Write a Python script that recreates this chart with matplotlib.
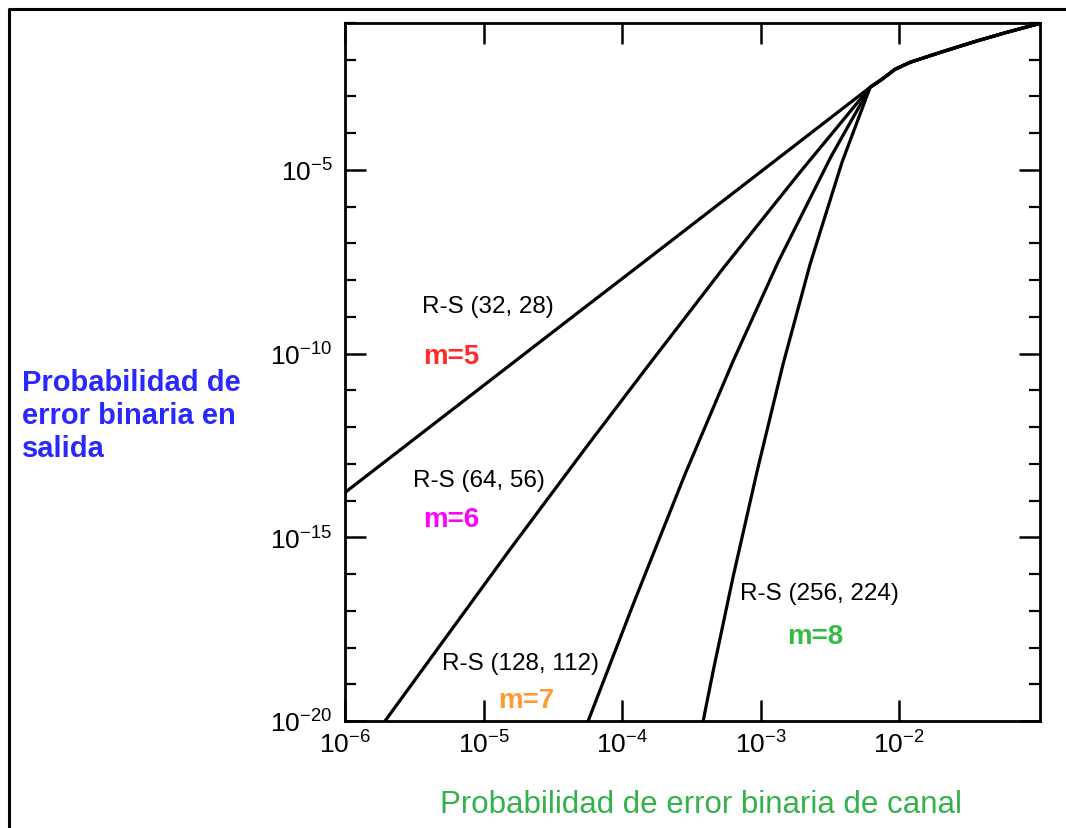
import matplotlib
matplotlib.use("Agg")
import matplotlib.pyplot as plt
from matplotlib.lines import Line2D
from matplotlib.ticker import FixedLocator, NullFormatter, FixedFormatter

plt.rcParams['font.family'] = ['Liberation Sans', 'DejaVu Sans']
plt.rcParams['mathtext.default'] = 'regular'

# ---- data (channel BER -> output BER) ----
rs32_p  = [1.0e-6, 4.98e-5, 1.42e-4, 6.18e-3]
rs32_pe = [1.66e-14, 1.45e-9, 3.02e-8, 1.78e-3]

rs64_p  = [1.945e-6, 1.552e-5, 5.58e-5, 1.542e-4, 5.36e-4, 1.928e-3, 6.18e-3]
rs64_pe = [1e-20, 4.68e-16, 3.02e-13, 4.68e-11, 2.09e-8, 8.71e-6, 1.78e-3]

rs128_p  = [5.69e-5, 1.242e-4, 2.85e-4, 6.32e-4, 1.337e-3, 3.23e-3, 6.18e-3]
rs128_pe = [1e-20, 2.04e-17, 5.25e-14, 6.17e-11, 3.09e-8, 2.34e-5, 1.78e-3]

rs256_p  = [3.85e-4, 4.54e-4, 6.32e-4, 9.44e-4, 1.452e-3, 2.275e-3, 3.87e-3, 6.18e-3]
rs256_pe = [1e-20, 2.24e-19, 8.13e-17, 6.31e-14, 5.13e-11, 2.69e-8, 1.62e-5, 1.78e-3]

# shared upper part where all curves merge
common_p  = [7.53e-3, 9.35e-3, 1.20e-2, 1.98e-2, 3.42e-2, 6.03e-2, 1.04e-1]
common_pe = [2.95e-3, 5.50e-3, 8.51e-3, 1.58e-2, 3.02e-2, 5.62e-2, 9.77e-2]

curve_names = ["R-S (32, 28)", "R-S (64, 56)", "R-S (128, 112)", "R-S (256, 224)"]
m_labels = ["m=5", "m=6", "m=7", "m=8"]

x_ticks = [1e-6, 1e-5, 1e-4, 1e-3, 1e-2]
x_ticklabels = ['$10^{-6}$', '$10^{-5}$', '$10^{-4}$', '$10^{-3}$', '$10^{-2}$']
y_ticks = [1e-20, 1e-15, 1e-10, 1e-5]
y_ticklabels = ['$10^{-20}$', '$10^{-15}$', '$10^{-10}$', '$10^{-5}$']
y_minor = [10.0 ** k for k in range(-20, 0)]

xlabel = "Probabilidad de error binaria de canal"
ylabel = "Probabilidad de\nerror binaria en\nsalida"

# ---- figure ----
W, H = 1066, 829
fig = plt.figure(figsize=(W / 100, H / 100), dpi=100)
fig.patch.set_facecolor('white')

L, R, T, B = 345, 1040, 24, 722
ax = fig.add_axes([L / W, 1 - B / H, (R - L) / W, (B - T) / H])
ax.set_xscale('log')
ax.set_yscale('log')
ax.set_xlim(1e-6, 1.04e-1)
ax.set_ylim(1e-20, 1.0e-1)

for px, pe in [(rs32_p, rs32_pe), (rs64_p, rs64_pe), (rs128_p, rs128_pe), (rs256_p, rs256_pe)]:
    ax.plot(px + common_p, pe + common_pe, color='black', lw=2.3, solid_joinstyle='round',
            solid_capstyle='round')

for s in ax.spines.values():
    s.set_linewidth(2.0)

ax.xaxis.set_major_locator(FixedLocator(x_ticks))
ax.xaxis.set_major_formatter(FixedFormatter(x_ticklabels))
ax.xaxis.set_minor_locator(FixedLocator([]))
ax.yaxis.set_major_locator(FixedLocator(y_ticks))
ax.yaxis.set_major_formatter(FixedFormatter(y_ticklabels))
ax.yaxis.set_minor_locator(FixedLocator(y_minor))
ax.yaxis.set_minor_formatter(NullFormatter())

ax.tick_params(which='major', direction='in', length=15, width=1.8, top=True, right=True,
               labelsize=19, colors='black')
ax.tick_params(axis='x', which='major', pad=7)
ax.tick_params(axis='y', which='major', pad=9)
ax.tick_params(which='minor', direction='in', length=8, width=1.6, top=True, right=True)

# annotations
def ftext(px, py, s, **kw):
    fig.text(px / W, 1 - py / H, s, **kw)

ann = dict(fontsize=17.5, color='black', va='center', ha='left')
mk = dict(fontsize=20, fontweight='bold', va='center', ha='left')
ftext(422, 307, curve_names[0], **ann)
ftext(423, 357, m_labels[0], color='#ff2a2a', **mk)
ftext(413, 481, curve_names[1], **ann)
ftext(423, 520, m_labels[1], color='#ff00ff', **mk)
ftext(442, 664, curve_names[2], **ann)
ftext(498, 701, m_labels[2], color='#ff9933', **mk)
ftext(740, 594, curve_names[3], **ann)
ftext(787, 637, m_labels[3], color='#33bb44', **mk)

# axis titles
ftext(22, 416, ylabel, fontsize=21, color='#2828ff', fontweight='bold', va='center',
      ha='left', linespacing=1.22)
ftext(701, 805, xlabel, fontsize=22.5, color='#33b24a', va='center', ha='center')

# outer frame of the picture
fig.add_artist(Line2D([9 / W, 9 / W, 1.01], [-0.01, 1 - 10 / H, 1 - 10 / H],
                      transform=fig.transFigure, color='black', lw=2.2))

fig.savefig('out.png', dpi=100, facecolor='white')
